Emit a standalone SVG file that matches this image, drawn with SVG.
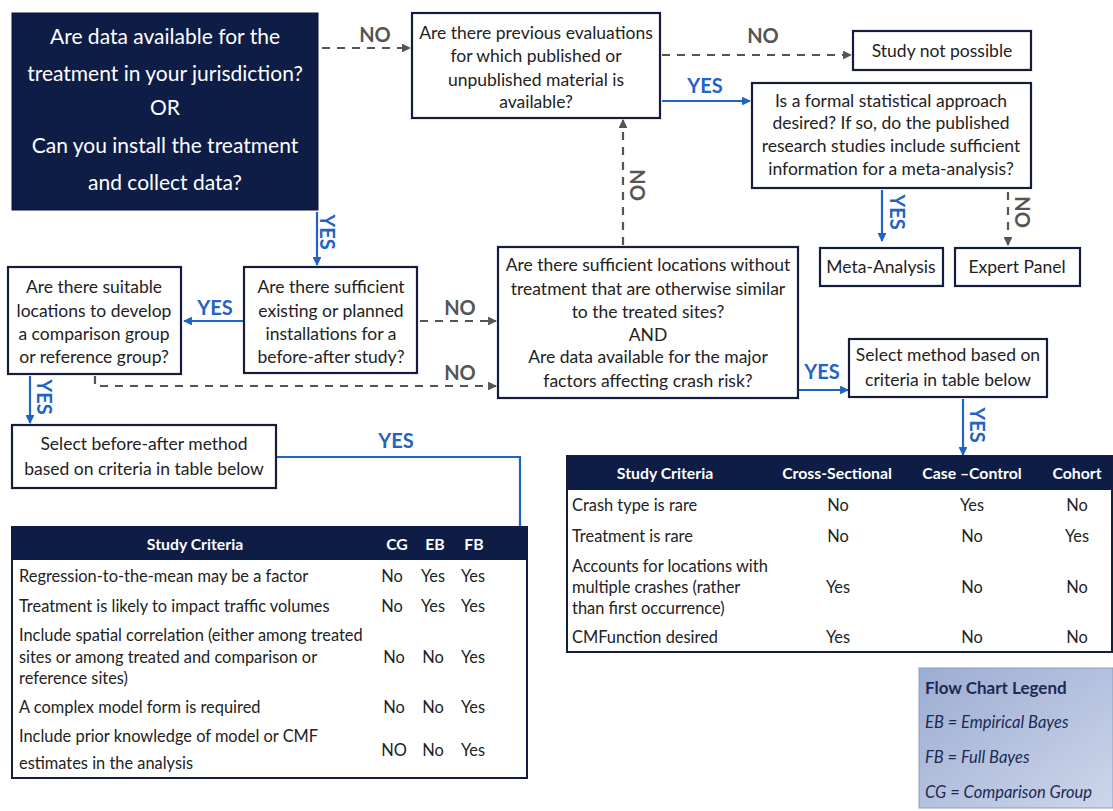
<svg xmlns="http://www.w3.org/2000/svg" width="1113" height="811" viewBox="0 0 1113 811">
<defs>
<marker id="ab" viewBox="0 0 10 10" refX="9" refY="5" markerWidth="4" markerHeight="4" orient="auto"><path d="M0,0 L10,5 L0,10 z" fill="#1f63c4"/></marker>
<marker id="ag" viewBox="0 0 10 10" refX="9" refY="5" markerWidth="4" markerHeight="4" orient="auto"><path d="M0,0 L10,5 L0,10 z" fill="#555"/></marker>
<linearGradient id="lg" x1="0" y1="0" x2="1" y2="1"><stop offset="0" stop-color="#9cadd2"/><stop offset="1" stop-color="#cdd6ea"/></linearGradient>
<style>
text{font-family:Lato,"Liberation Sans",sans-serif;fill:#222}
.box{fill:#fff;stroke:#141d3d;stroke-width:2.2}
.t{font-size:17.5px;text-anchor:middle}
.dk{font-size:21px;fill:#fff;text-anchor:middle}
.yes{font-size:20px;font-weight:bold;fill:#1f63c4;text-anchor:middle}
.no{font-size:20px;font-weight:bold;fill:#555;text-anchor:middle}
.bl{stroke:#1f63c4;stroke-width:2.2;fill:none}
.gr{stroke:#555;stroke-width:2.2;fill:none;stroke-dasharray:8,7}
.hd{font-size:15.8px;font-weight:bold;fill:#fff;text-anchor:middle}
.c{font-size:16.4px;text-anchor:middle}
.l{font-size:16.4px}
.lg{font-size:16.5px;font-style:italic;fill:#1c2a55}
</style>
</defs>
<rect width="1113" height="811" fill="#fff"/>

<g id="connectors">
<line class="gr" x1="322" y1="48" x2="410" y2="48" marker-end="url(#ag)"/>
<text class="no" x="375" y="42">NO</text>
<line class="gr" x1="662" y1="55" x2="851" y2="55" marker-end="url(#ag)"/>
<text class="no" x="763" y="43">NO</text>
<line class="bl" x1="662" y1="101" x2="750" y2="101" marker-end="url(#ab)"/>
<text class="yes" x="705" y="93">YES</text>
<line class="bl" x1="882" y1="190" x2="882" y2="241" marker-end="url(#ab)"/>
<text class="yes" transform="translate(890,212) rotate(90)">YES</text>
<line class="gr" x1="1008" y1="192" x2="1008" y2="245" marker-end="url(#ag)"/>
<text class="no" transform="translate(1015,212) rotate(90)">NO</text>
<line class="gr" x1="623" y1="245" x2="623" y2="120" marker-end="url(#ag)"/>
<text class="no" transform="translate(630,185) rotate(90)">NO</text>
<line class="bl" x1="317" y1="212" x2="317" y2="265" marker-end="url(#ab)"/>
<text class="yes" transform="translate(320,232) rotate(90)">YES</text>
<line class="gr" x1="420" y1="321" x2="496" y2="321" marker-end="url(#ag)"/>
<text class="no" x="460" y="315">NO</text>
<line class="bl" x1="244" y1="321" x2="184" y2="321" marker-end="url(#ab)"/>
<text class="yes" x="215" y="315">YES</text>
<path class="gr" d="M95,376 V386 H496" marker-end="url(#ag)"/>
<text class="no" x="460" y="380">NO</text>
<line class="bl" x1="30" y1="376" x2="30" y2="423" marker-end="url(#ab)"/>
<text class="yes" transform="translate(37,397) rotate(90)">YES</text>
<path class="bl" d="M276,457 H520 V656 H500" marker-end="url(#ab)"/>
<text class="yes" x="396" y="448">YES</text>
<line class="bl" x1="799" y1="390" x2="848" y2="390" marker-end="url(#ab)"/>
<text class="yes" x="822" y="379">YES</text>
<line class="bl" x1="963" y1="399" x2="963" y2="455" marker-end="url(#ab)"/>
<text class="yes" transform="translate(970,425) rotate(90)">YES</text>
</g>

<g id="n-start">
<rect x="12" y="13" width="306" height="197" fill="#0d1d45" stroke="#0a1536" stroke-width="1"/>
<text class="dk" x="165" y="44">Are data available for the</text>
<text class="dk" x="165" y="81">treatment in your jurisdiction?</text>
<text class="dk" x="165" y="115">OR</text>
<text class="dk" x="165" y="153">Can you install the treatment</text>
<text class="dk" x="165" y="190">and collect data?</text>
</g>

<g id="n-previous">
<rect class="box" x="412" y="13" width="248" height="105"/>
<text class="t" x="536" y="39">Are there previous evaluations</text>
<text class="t" x="536" y="62">for which published or</text>
<text class="t" x="536" y="86">unpublished material is</text>
<text class="t" x="536" y="108">available?</text>
</g>

<g id="n-notpossible">
<rect class="box" x="853" y="31" width="178" height="39"/>
<text class="t" x="942" y="57">Study not possible</text>
</g>

<g id="n-formal">
<rect class="box" x="752" y="83" width="279" height="105"/>
<text class="t" x="891" y="107">Is a formal statistical approach</text>
<text class="t" x="891" y="129">desired? If so, do the published</text>
<text class="t" x="891" y="152">research studies include sufficient</text>
<text class="t" x="891" y="175">information for a meta-analysis?</text>
</g>

<g id="n-meta">
<rect class="box" x="820" y="248" width="123" height="38"/>
<text class="t" x="881" y="273">Meta-Analysis</text>
</g>

<g id="n-expert">
<rect class="box" x="955" y="248" width="125" height="38"/>
<text class="t" x="1017" y="273">Expert Panel</text>
</g>

<g id="n-locations">
<rect class="box" x="498" y="247" width="300" height="151"/>
<text class="t" x="648" y="271">Are there sufficient locations without</text>
<text class="t" x="648" y="295">treatment that are otherwise similar</text>
<text class="t" x="648" y="318">to the treated sites?</text>
<text class="t" x="648" y="341">AND</text>
<text class="t" x="648" y="363">Are data available for the major</text>
<text class="t" x="648" y="387">factors affecting crash risk?</text>
</g>

<g id="n-installations">
<rect class="box" x="244" y="267" width="173" height="106"/>
<text class="t" x="331" y="293">Are there sufficient</text>
<text class="t" x="331" y="317">existing or planned</text>
<text class="t" x="331" y="340">installations for a</text>
<text class="t" x="331" y="363">before-after study?</text>
</g>

<g id="n-suitable">
<rect class="box" x="8" y="267" width="173" height="107"/>
<text class="t" x="94" y="293">Are there suitable</text>
<text class="t" x="94" y="317">locations to develop</text>
<text class="t" x="94" y="340">a comparison group</text>
<text class="t" x="94" y="363">or reference group?</text>
</g>

<g id="n-beforeafter">
<rect class="box" x="12" y="425" width="264" height="63"/>
<text class="t" x="144" y="450">Select before-after method</text>
<text class="t" x="144" y="475">based on criteria in table below</text>
</g>

<g id="n-selectmethod">
<rect class="box" x="849" y="339" width="198" height="58"/>
<text class="t" x="948" y="361">Select method based on</text>
<text class="t" x="948" y="386">criteria in table below</text>
</g>

<g id="t-right">
<rect x="567" y="456" width="545" height="196" fill="#fff" stroke="#141d3d" stroke-width="2"/>
<rect x="567" y="456" width="545" height="34" fill="#0d1d45"/>
<text class="hd" x="665" y="479">Study Criteria</text>
<text class="hd" x="837" y="479">Cross-Sectional</text>
<text class="hd" x="972" y="479">Case –Control</text>
<text class="hd" x="1077" y="479">Cohort</text>
<text class="l" x="572" y="511">Crash type is rare</text>
<text class="c" x="838" y="511">No</text><text class="c" x="972" y="511">Yes</text><text class="c" x="1077" y="511">No</text>
<text class="l" x="572" y="542">Treatment is rare</text>
<text class="c" x="838" y="542">No</text><text class="c" x="972" y="542">No</text><text class="c" x="1077" y="542">Yes</text>
<text class="l" x="572" y="572">Accounts for locations with</text>
<text class="l" x="572" y="593">multiple crashes (rather</text>
<text class="l" x="572" y="614">than first occurrence)</text>
<text class="c" x="838" y="593">Yes</text><text class="c" x="972" y="593">No</text><text class="c" x="1077" y="593">No</text>
<text class="l" x="572" y="643">CMFunction desired</text>
<text class="c" x="838" y="643">Yes</text><text class="c" x="972" y="643">No</text><text class="c" x="1077" y="643">No</text>
</g>

<g id="t-left">
<rect x="12" y="527" width="515" height="251" fill="#fff" stroke="#141d3d" stroke-width="2"/>
<rect x="12" y="527" width="515" height="33" fill="#0d1d45"/>
<text class="hd" x="195" y="550">Study Criteria</text>
<text class="hd" x="397" y="550">CG</text>
<text class="hd" x="435" y="550">EB</text>
<text class="hd" x="474" y="550">FB</text>
<text class="l" x="19" y="582">Regression-to-the-mean may be a factor</text>
<text class="c" x="392" y="582">No</text><text class="c" x="433" y="582">Yes</text><text class="c" x="473" y="582">Yes</text>
<text class="l" x="19" y="612">Treatment is likely to impact traffic volumes</text>
<text class="c" x="392" y="612">No</text><text class="c" x="433" y="612">Yes</text><text class="c" x="473" y="612">Yes</text>
<text class="l" x="19" y="641">Include spatial correlation (either among treated</text>
<text class="l" x="19" y="663">sites or among treated and comparison or</text>
<text class="l" x="19" y="684">reference sites)</text>
<text class="c" x="394" y="663">No</text><text class="c" x="433" y="663">No</text><text class="c" x="473" y="663">Yes</text>
<text class="l" x="19" y="713">A complex model form is required</text>
<text class="c" x="394" y="713">No</text><text class="c" x="433" y="713">No</text><text class="c" x="473" y="713">Yes</text>
<text class="l" x="19" y="742">Include prior knowledge of model or CMF</text>
<text class="l" x="19" y="769">estimates in the analysis</text>
<text class="c" x="394" y="756">NO</text><text class="c" x="433" y="756">No</text><text class="c" x="473" y="756">Yes</text>
</g>

<g id="legend">
<rect x="919" y="668" width="194" height="140" fill="url(#lg)" stroke="#8d9cc0" stroke-width="1"/>
<text x="925" y="694" style="font-size:17px;font-weight:bold;fill:#1c2a55">Flow Chart Legend</text>
<text class="lg" x="925" y="728">EB = Empirical Bayes</text>
<text class="lg" x="925" y="763">FB = Full Bayes</text>
<text class="lg" x="925" y="798">CG = Comparison Group</text>
</g>
</svg>
